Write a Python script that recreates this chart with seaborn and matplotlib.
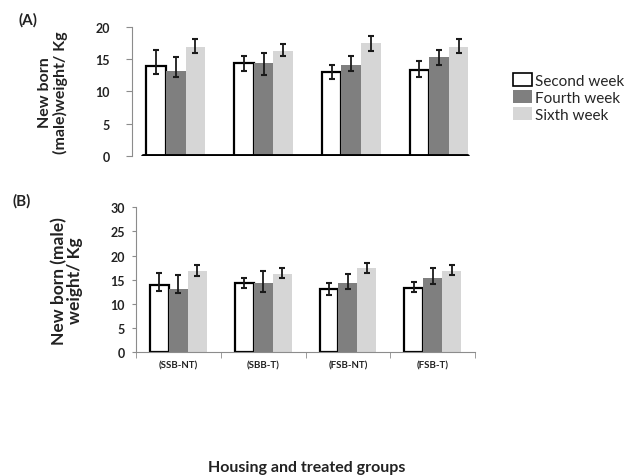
import numpy as np
import pandas as pd
import matplotlib
matplotlib.use("Agg")
import matplotlib.pyplot as plt
import seaborn as sns
from matplotlib.patches import Patch

sns.set_style("white")
plt.rcParams['font.family'] = ['Lato', 'DejaVu Sans']
plt.rcParams['font.weight'] = 'bold'
plt.rcParams['axes.labelweight'] = 'bold'

groups = ["(SSB-NT)", "(SBB-T)", "(FSB-NT)", "(FSB-T)"]
weeks = ["Second week", "Fourth week", "Sixth week"]
week_colors = ["#ffffff", "#7f7f7f", "#d6d6d6"]

# panel A: bar heights and error bar ends (lower / upper)
second_a = [13.9, 14.4, 13.0, 13.4]
fourth_a = [13.2, 14.4, 14.1, 15.3]
sixth_a = [17.0, 16.3, 17.5, 17.0]
second_a_lo = [12.7, 13.2, 12.0, 12.2]
second_a_hi = [16.5, 15.6, 14.1, 14.8]
fourth_a_lo = [12.2, 12.6, 13.2, 14.1]
fourth_a_hi = [15.3, 16.0, 15.6, 16.5]
sixth_a_lo = [16.0, 15.5, 16.3, 16.0]
sixth_a_hi = [18.2, 17.4, 18.6, 18.1]

# panel B
second_b = [14.0, 14.35, 13.1, 13.4]
fourth_b = [13.1, 14.3, 14.3, 15.3]
sixth_b = [16.9, 16.2, 17.4, 16.9]
second_b_lo = [12.6, 13.25, 11.9, 12.4]
second_b_hi = [16.4, 15.45, 14.35, 14.6]
fourth_b_lo = [12.3, 12.4, 13.1, 14.1]
fourth_b_hi = [15.9, 16.8, 16.2, 17.45]
sixth_b_lo = [15.7, 15.45, 16.35, 16.0]
sixth_b_hi = [18.1, 17.4, 18.4, 18.1]


def long_table(series, lows, highs):
    rows = []
    for week, vals, lo, hi in zip(weeks, series, lows, highs):
        for g, v, l, h in zip(groups, vals, lo, hi):
            rows.append([g, week, v, l, h])
    return pd.DataFrame(rows, columns=["group", "week", "weight", "lo", "hi"])


def draw_panel(ax, df):
    sns.barplot(data=df, x="group", y="weight", hue="week", order=groups,
                hue_order=weeks, palette=week_colors, width=0.67,
                errorbar=None, legend=False, ax=ax)
    for week, cont in zip(weeks, ax.containers):
        sub = df[df.week == week].set_index("group").loc[groups]
        xs = [p.get_x() + p.get_width() / 2 for p in cont.patches]
        for p in cont.patches:
            if week == "Second week":
                p.set_edgecolor("black")
                p.set_linewidth(1.6)
            else:
                p.set_edgecolor("none")
        yerr = [sub.weight - sub.lo, sub.hi - sub.weight]
        ax.errorbar(xs, sub.weight, yerr=yerr, fmt="none", ecolor="#1a1a1a",
                    elinewidth=1.3, capsize=2.3, capthick=1.5, zorder=5)
    ax.set_xlim(-0.5, 3.5)
    ax.set_xlabel("")
    for s in ["top", "right"]:
        ax.spines[s].set_visible(False)
    ax.spines["left"].set_color("#8c8c8c")


fig = plt.figure(figsize=(6.28, 4.77), dpi=100)

# (A)
ax_a = fig.add_axes([0.2102, 0.6715, 0.5586, 0.2692])
draw_panel(ax_a, long_table([second_a, fourth_a, sixth_a],
                            [second_a_lo, fourth_a_lo, sixth_a_lo],
                            [second_a_hi, fourth_a_hi, sixth_a_hi]))
ax_a.set_ylim(0, 20)
ax_a.set_yticks(range(0, 21, 5))
ax_a.tick_params(axis="y", left=True, length=4, color="#8c8c8c",
                 labelsize=9, labelcolor="#222222", pad=12)
plt.setp(ax_a.get_yticklabels(), fontweight="bold")
ax_a.set_xticks([])
ax_a.spines["bottom"].set_visible(False)
ax_a.axhline(0, xmin=0.031, xmax=0.954, color="black", lw=3.5, zorder=6)
ax_a.set_ylabel("New born\n(male)weight/ Kg", fontsize=11.5, fontweight="bold",
                color="#222222", labelpad=20, linespacing=1.0)

# (B)
ax_b = fig.add_axes([0.2166, 0.2593, 0.5398, 0.304])
draw_panel(ax_b, long_table([second_b, fourth_b, sixth_b],
                            [second_b_lo, fourth_b_lo, sixth_b_lo],
                            [second_b_hi, fourth_b_hi, sixth_b_hi]))
ax_b.set_ylim(0, 30)
ax_b.set_yticks(range(0, 31, 5))
ax_b.tick_params(axis="y", left=True, length=3, color="#8c8c8c",
                 labelsize=9, labelcolor="#222222", pad=5)
plt.setp(ax_b.get_yticklabels(), fontweight="bold")
ax_b.spines["bottom"].set_color("#8c8c8c")
ax_b.set_xticks(np.arange(-0.5, 4, 1), minor=True)
ax_b.tick_params(axis="x", which="major", length=0, labelsize=7,
                 labelcolor="#222222", pad=6)
ax_b.tick_params(axis="x", which="minor", bottom=True, length=4,
                 color="#8c8c8c", direction="out")
plt.setp(ax_b.get_xticklabels(), fontweight="bold")
ax_b.set_ylabel("New born (male)\nweight/ Kg", fontsize=12.5, fontweight="bold",
                color="#222222", labelpad=20, linespacing=0.95)

fig.text(0.045, 0.958, "(A)", fontsize=11, fontweight="bold", color="#222222",
         va="center", ha="center")
fig.text(0.034, 0.577, "(B)", fontsize=11, fontweight="bold", color="#222222",
         va="center", ha="center")
fig.text(0.489, 0.019, "Housing and treated groups", fontsize=11.5,
         fontweight="bold", color="#222222", ha="center", va="center")

handles = [Patch(facecolor=c, edgecolor="black" if i == 0 else "none",
                 linewidth=1.2) for i, c in enumerate(week_colors)]
fig.legend(handles, weeks, loc="upper left", bbox_to_anchor=(0.805, 0.86),
           frameon=False, prop={"size": 11, "weight": "normal"},
           handlelength=1.2, handleheight=0.9,
           handletextpad=0.2, labelspacing=0.15, borderpad=0)

fig.savefig("out.png", dpi=100)
